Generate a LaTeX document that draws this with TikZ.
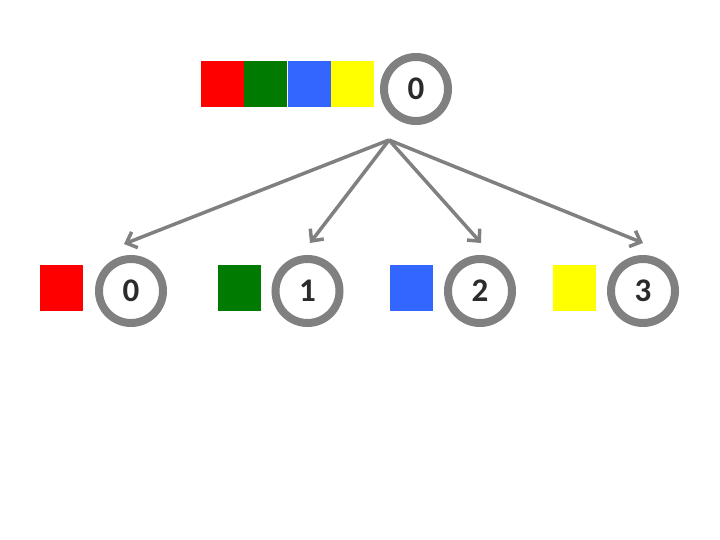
\documentclass[tikz,border=0pt]{standalone}
\usepackage{fontspec}
\setmainfont{Carlito}
\usetikzlibrary{arrows.meta,shadows}
\definecolor{ringgray}{HTML}{808080}
\definecolor{digit}{HTML}{2B2B2B}
\definecolor{cred}{HTML}{FF0000}
\definecolor{cgreen}{HTML}{007A00}
\definecolor{cblue}{HTML}{3366FF}
\definecolor{cyellow}{HTML}{FFFF00}
\tikzset{
  ring/.style={circle, draw=ringgray, line width=8pt, fill=white,
    minimum size=64pt, inner sep=0pt, font=\fontsize{33}{33}\selectfont\bfseries,
    text=digit, drop shadow={opacity=0.25, shadow xshift=1pt, shadow yshift=-2pt}},
  tile/.style={rectangle, fill=#1, minimum width=43pt, minimum height=46pt,
    inner sep=0pt},
  link/.style={draw=ringgray, line width=3.5pt,
    -{Straight Barb[length=9pt, width=17pt, line width=3.5pt]}},
}
\begin{document}
\begin{tikzpicture}[x=1pt, y=-1pt]
  \useasboundingbox (0,0) rectangle (720,540);
  % parent: four colour tiles and its label ring
  \node[tile=cred]    (t0) at (222,84) {};
  \node[tile=cgreen]  (t1) at (265,84) {};
  \node[tile=cblue]   (t2) at (309,84) {};
  \node[tile=cyellow] (t3) at (352.5,84) {};
  \node[ring] (p) at (416,89) {0};
  \coordinate (fork) at (389,140);
  % children: one tile each with its ring
  \node[tile=cred]    (c0t) at (61.5,288) {};
  \node[ring] (c0) at (131,291) {0};
  \node[tile=cgreen]  (c1t) at (239,288) {};
  \node[ring] (c1) at (307.5,291) {1};
  \node[tile=cblue]   (c2t) at (411,288) {};
  \node[ring] (c2) at (480,291) {2};
  \node[tile=cyellow] (c3t) at (574.5,288) {};
  \node[ring] (c3) at (643,291) {3};
  % edges from the parent to each child
  \coordinate (e0) at (124,244);
  \coordinate (e1) at (310,243);
  \coordinate (e2) at (481,243);
  \coordinate (e3) at (643,243);
  \draw[link] (fork) -- (e0);
  \draw[link] (fork) -- (e1);
  \draw[link] (fork) -- (e2);
  \draw[link] (fork) -- (e3);
\end{tikzpicture}
\end{document}
